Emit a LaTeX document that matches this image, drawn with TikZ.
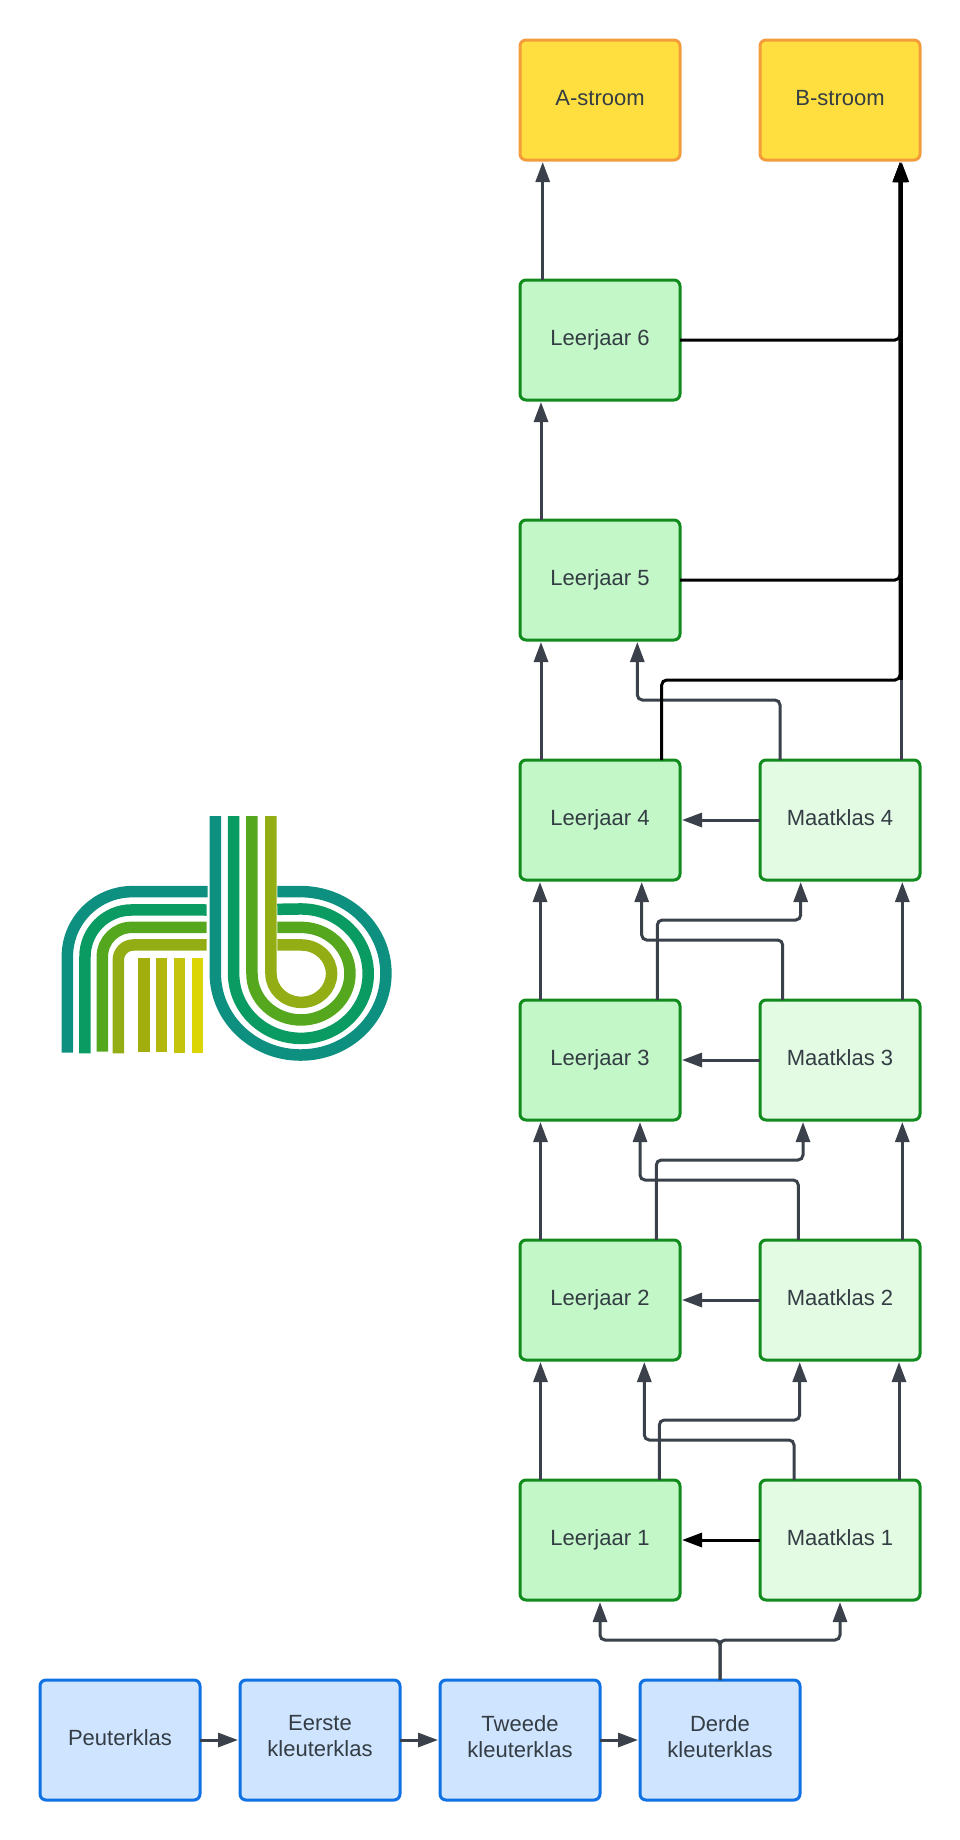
\documentclass[tikz,border=0pt]{standalone}
\usepackage{fontspec}
\setmainfont{Liberation Sans}
\usetikzlibrary{arrows.meta}
\definecolor{txt}{HTML}{343D44}
\definecolor{conn}{HTML}{3A414A}
\definecolor{ljfill}{HTML}{C3F7C8}
\definecolor{mkfill}{HTML}{E3FAE3}
\definecolor{grstroke}{HTML}{118A1E}
\definecolor{blfill}{HTML}{CFE4FF}
\definecolor{blstroke}{HTML}{1071E5}
\definecolor{yefill}{HTML}{FFDF3F}
\definecolor{yestroke}{HTML}{F39C3C}
\definecolor{lgA}{HTML}{0E9080}
\definecolor{lgB}{HTML}{0A9B62}
\definecolor{lgC}{HTML}{55A81E}
\definecolor{lgD}{HTML}{93AE14}
\definecolor{lgE}{HTML}{A2AD0E}
\definecolor{lgF}{HTML}{B2B70E}
\definecolor{lgG}{HTML}{C4C40C}
\definecolor{lgH}{HTML}{DCD505}
\tikzset{
  boxbase/.style={draw,rounded corners=6pt,minimum width=160pt,minimum height=120pt,
    inner sep=0pt,outer sep=0pt,line width=3pt,align=center,text=txt,
    font=\fontsize{22}{26}\selectfont,execute at begin node=\strut},
  ljbox/.style={boxbase,fill=ljfill,draw=grstroke},
  mkbox/.style={boxbase,fill=mkfill,draw=grstroke},
  klbox/.style={boxbase,fill=blfill,draw=blstroke},
  stroombox/.style={boxbase,fill=yefill,draw=yestroke},
  arrowline/.style={draw=conn,line width=3pt,rounded corners=5pt,shorten >=2pt,
    -{Triangle[length=20pt,width=14pt]}},
  blackline/.style={arrowline,draw=black,color=black},
  plainline/.style={draw=conn,line width=3pt},
  logoline/.style={line width=11.5pt}
}
\begin{document}
\begin{tikzpicture}[x=1pt,y=-1pt]
\useasboundingbox (0,0) rectangle (960,1840);
% nodes
\node[stroombox] (A) at (600,100) {A-stroom};
\node[stroombox] (B) at (840,100) {B-stroom};
\node[ljbox] (L6) at (600,340) {Leerjaar 6};
\node[ljbox] (L5) at (600,580) {Leerjaar 5};
\node[ljbox] (L4) at (600,820) {Leerjaar 4};
\node[ljbox] (L3) at (600,1060) {Leerjaar 3};
\node[ljbox] (L2) at (600,1300) {Leerjaar 2};
\node[ljbox] (L1) at (600,1540) {Leerjaar 1};
\node[mkbox] (M4) at (840,820) {Maatklas 4};
\node[mkbox] (M3) at (840,1060) {Maatklas 3};
\node[mkbox] (M2) at (840,1300) {Maatklas 2};
\node[mkbox] (M1) at (840,1540) {Maatklas 1};
\node[klbox] (P) at (120,1740) {Peuterklas};
\node[klbox] (E) at (320,1740) {Eerste\\\strut kleuterklas};
\node[klbox] (T) at (520,1740) {Tweede\\\strut kleuterklas};
\node[klbox] (D) at (720,1740) {Derde\\\strut kleuterklas};
% bottom row
\draw[arrowline] (P.east) -- (E.west);
\draw[arrowline] (E.east) -- (T.west);
\draw[arrowline] (T.east) -- (D.west);
\draw[arrowline] (D.north) -- ++(0,-40) -| (L1.south);
\draw[arrowline] (D.north) -- ++(0,-40) -| (M1.south);
% left column
\draw[arrowline] ([xshift=-59.5pt]L1.north) -- ([xshift=-59.5pt]L2.south);
\draw[arrowline] ([xshift=-59.5pt]L2.north) -- ([xshift=-59.5pt]L3.south);
\draw[arrowline] ([xshift=-60pt]L3.north) -- ([xshift=-60pt]L4.south);
\draw[arrowline] ([xshift=-59pt]L4.north) -- ([xshift=-59pt]L5.south);
\draw[arrowline] ([xshift=-59pt]L5.north) -- ([xshift=-59pt]L6.south);
\draw[arrowline] ([xshift=-57.3pt]L6.north) -- ([xshift=-57.3pt]A.south);
% right column
\draw[arrowline] ([xshift=59pt]M1.north) -- ([xshift=59pt]M2.south);
\draw[arrowline] ([xshift=62.3pt]M2.north) -- ([xshift=62.3pt]M3.south);
\draw[arrowline] ([xshift=62.3pt]M3.north) -- ([xshift=62.3pt]M4.south);
% maatklas to leerjaar
\draw[blackline] (M1.west) -- (L1.east);
\draw[arrowline] (M2.west) -- (L2.east);
\draw[arrowline] (M3.west) -- (L3.east);
\draw[arrowline] (M4.west) -- (L4.east);
% crossings
\draw[arrowline] ([xshift=-46pt]M1.north) -- ++(0,-40) -| ([xshift=44.3pt]L2.south);
\draw[arrowline] ([xshift=59.3pt]L1.north) -- ++(0,-60) -| ([xshift=-40.3pt]M2.south);
\draw[arrowline] ([xshift=-41.7pt]M2.north) -- ++(0,-60) -| ([xshift=40pt]L3.south);
\draw[arrowline] ([xshift=56.3pt]L2.north) -- ++(0,-80) -| ([xshift=-37pt]M3.south);
\draw[arrowline] ([xshift=-57.3pt]M3.north) -- ++(0,-60) -| ([xshift=41.7pt]L4.south);
\draw[arrowline] ([xshift=57.3pt]L3.north) -- ++(0,-80) -| ([xshift=-39.3pt]M4.south);
\draw[arrowline] ([xshift=-60pt]M4.north) -- ++(0,-60) -| ([xshift=37.3pt]L5.south);
% to B-stroom
\coordinate (bj) at (901.7,680);
\draw[plainline] ([xshift=61.7pt]M4.north) -- (bj);
\draw[blackline] (bj) -- ([xshift=61.7pt]B.south);
\draw[blackline] ([xshift=61.7pt]L4.north) -- ++(0,-80) -| ([xshift=60pt]B.south);
\draw[blackline] (L5.east) -| ([xshift=60pt]B.south);
\draw[blackline] (L6.east) -| ([xshift=60pt]B.south);
% logo
\begin{scope}[shift={(30,790)},x=0.3333pt,y=-0.3333pt]
\draw[logoline,draw=lgA] (112,788) -- (112,500) arc[start angle=180,end angle=90,radius=65pt] -- (533,305);
\draw[logoline,draw=lgB] (165,790) -- (165,500) arc[start angle=180,end angle=90,radius=46.7pt] -- (530,360);
\draw[logoline,draw=lgC] (217,785) -- (217,500) arc[start angle=180,end angle=90,radius=29.3pt] -- (530,412);
\draw[logoline,draw=lgD] (265,790) -- (265,510) arc[start angle=180,end angle=90,radius=15pt] -- (530,465);
\draw[logoline,draw=lgE] (342,503) -- (342,785);
\draw[logoline,draw=lgF] (395,503) -- (395,785);
\draw[logoline,draw=lgG] (448,503) -- (448,788);
\draw[logoline,draw=lgH] (502,503) -- (502,790);
\draw[logoline,draw=lgA] (556,78) -- (556,550) arc[start angle=180,end angle=450,x radius=85.3pt,y radius=81.7pt] -- (742,305);
\draw[logoline,draw=lgB] (611,78) -- (611,551) arc[start angle=180,end angle=450,x radius=67.3pt,y radius=64.7pt] -- (742,358);
\draw[logoline,draw=lgC] (666,78) -- (666,551) arc[start angle=180,end angle=450,x radius=49pt,y radius=46.3pt] -- (742,412);
\draw[logoline,draw=lgD] (723,78) -- (723,551) arc[start angle=180,end angle=450,x radius=30.3pt,y radius=28.7pt] -- (742,465);
\end{scope}
\end{tikzpicture}
\end{document}
